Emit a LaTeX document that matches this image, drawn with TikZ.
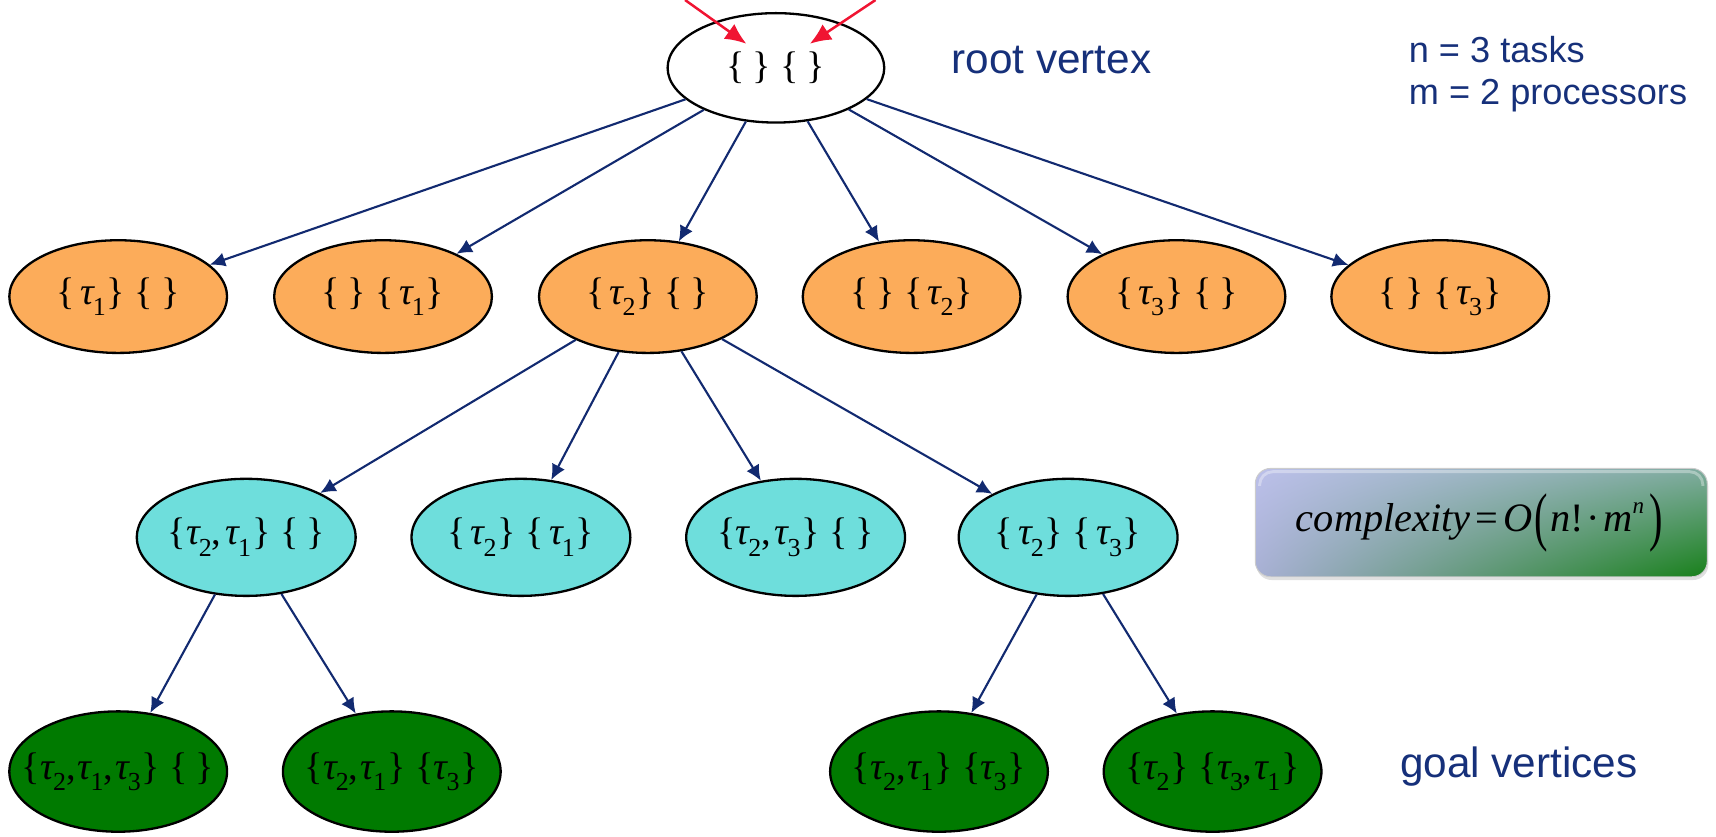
\documentclass[tikz,border=0pt]{standalone}
\usepackage{graphicx}
\usepackage{fontspec}
\setmainfont{Liberation Serif}
\newfontfamily\labelfont{Liberation Sans}
\usetikzlibrary{shapes.geometric,arrows.meta,shadings}

\definecolor{navy}{RGB}{18,42,112}
\definecolor{labelblue}{RGB}{22,48,122}
\definecolor{vorange}{RGB}{252,172,90}
\definecolor{vcyan}{RGB}{110,222,220}
\definecolor{vgreen}{RGB}{0,122,0}
\definecolor{arrowred}{RGB}{240,20,50}
\definecolor{boxul}{RGB}{188,192,234}
\definecolor{boxur}{RGB}{128,172,160}
\definecolor{boxll}{RGB}{168,176,212}
\definecolor{boxlr}{RGB}{24,128,26}

% task symbol tau_k
\newcommand\tk[1]{{\itshape τ}\kern-0.5pt\raisebox{-0.65ex}{\fontsize{13.5}{13.5}\selectfont #1}}
% vertex text of zero width, so every ellipse keeps its own fixed size
\newcommand\vt[1]{\makebox[0pt]{#1}}
\newcommand\ob{\{\kern2.5pt}
\newcommand\cb{\kern0.5pt\}}
\newcommand\eset{\{\kern4pt\}}

\tikzset{
  vertex/.style={ellipse, draw=black, line width=1.2pt, inner sep=0pt,
                 font=\fontsize{20}{22}\selectfont},
  rootv/.style={vertex, fill=white, minimum width=3.96cm, minimum height=2.0cm,
                font=\fontsize{20}{22}\selectfont},
  orangev/.style={vertex, fill=vorange, minimum width=3.98cm, minimum height=2.06cm},
  cyanv/.style={vertex, fill=vcyan, minimum width=4.0cm, minimum height=2.14cm},
  greenv/.style={vertex, fill=vgreen, minimum width=3.98cm, minimum height=2.2cm},
  edge/.style={navy, line width=1.1pt, -{Latex[length=8pt,width=7.5pt]}},
  startarrow/.style={arrowred, line width=1.3pt, -{Latex[length=11pt,width=9.5pt]}},
  note/.style={labelblue, anchor=west, inner sep=0pt, font=\labelfont\fontsize{22}{24}\selectfont},
  smallnote/.style={labelblue, anchor=west, inner sep=0pt, font=\labelfont\fontsize{18.8}{21}\selectfont},
}

\begin{document}
\begin{tikzpicture}[x=0.02cm, y=-0.02cm]
\useasboundingbox (0,0) rectangle (1568,764);

% root
\node[rootv] (root) at (709,62) {\vt{\eset\ \eset}};

% first level: one task placed
\node[orangev] (o1) at (108,271)  {\vt{\ob\tk{1}\cb\ \eset}};
\node[orangev] (o2) at (350,271)  {\vt{\eset\ \ob\tk{1}\cb}};
\node[orangev] (o3) at (592,271)  {\vt{\ob\tk{2}\cb\ \eset}};
\node[orangev] (o4) at (833,271)  {\vt{\eset\ \ob\tk{2}\cb}};
\node[orangev] (o5) at (1075,271) {\vt{\ob\tk{3}\cb\ \eset}};
\node[orangev] (o6) at (1316,271) {\vt{\eset\ \ob\tk{3}\cb}};

% second level
\node[cyanv] (c1) at (225,491) {\vt{\{\tk{2},\kern2pt\tk{1}\cb\ \eset}};
\node[cyanv] (c2) at (476,491) {\vt{\ob\tk{2}\cb\ \ob\tk{1}\cb}};
\node[cyanv] (c3) at (727,491) {\vt{\{\tk{2},\kern2pt\tk{3}\cb\ \eset}};
\node[cyanv] (c4) at (976,491) {\vt{\ob\tk{2}\cb\ \ob\tk{3}\cb}};

% goal level
\node[greenv] (g1) at (108,705)  {\vt{\{\tk{2},\kern1pt\tk{1},\kern1pt\tk{3}\cb\ \eset}};
\node[greenv] (g2) at (358,705)  {\vt{\{\tk{2},\kern1pt\tk{1}\cb\ \{\tk{3}\cb}};
\node[greenv] (g3) at (858,705)  {\vt{\{\tk{2},\kern1pt\tk{1}\cb\ \{\tk{3}\cb}};
\node[greenv] (g4) at (1108,705) {\vt{\{\tk{2}\cb\ \{\tk{3},\kern1pt\tk{1}\cb}};

% edges
\foreach \t in {o1,o2,o3,o4,o5,o6} \draw[edge] (root) -- (\t);
\foreach \t in {c1,c2,c3,c4} \draw[edge] (o3) -- (\t);
\draw[edge] (c1) -- (g1);
\draw[edge] (c1) -- (g2);
\draw[edge] (c4) -- (g3);
\draw[edge] (c4) -- (g4);

% entry arrows into the root
\coordinate (in1) at (626,0);
\coordinate (in1t) at (682,40);
\coordinate (in2) at (800,0);
\coordinate (in2t) at (740,40);
\draw[startarrow] (in1) -- (in1t);
\draw[startarrow] (in2) -- (in2t);

% labels
\node[note] (rootlbl) at (869,55) {root vertex};
\node[smallnote] (nlbl) at (1287,45) {n = 3 tasks};
\node[smallnote] (mlbl) at (1287,87) {m = 2 processors};
\node[note] (goallbl) at (1279,700) {goal vertices};

% complexity box
\fill[black!40, opacity=0.3, rounded corners=0.28cm] (1148,431) rectangle (1561,530);
\shade[rounded corners=0.28cm,
       upper left=boxul, upper right=boxur,
       lower left=boxll, lower right=boxlr]
  (1147,428) rectangle (1560,527);
\draw[white, opacity=0.35, line width=1.5pt, rounded corners=0.24cm]
  (1151,444) -- (1151,431) -- (1556,431) -- (1556,444);
\draw[black!20, line width=0.5pt, rounded corners=0.28cm] (1147,428) rectangle (1560,527);
\node[font=\fontsize{21}{24}\selectfont, inner sep=0pt] (cx) at (1352,478)
  {\itshape complexity\kern2.5pt{\upshape =}\kern2.5pt O\kern1pt\raisebox{-0.4ex}{\upshape\scalebox{1}[1.6]{(}}\kern1.5pt n{\upshape !\kern1pt·\kern2pt}m\raisebox{0.95ex}{\fontsize{12}{12}\selectfont n}\kern3pt\raisebox{-0.4ex}{\upshape\scalebox{1}[1.6]{)}}};

\end{tikzpicture}
\end{document}
